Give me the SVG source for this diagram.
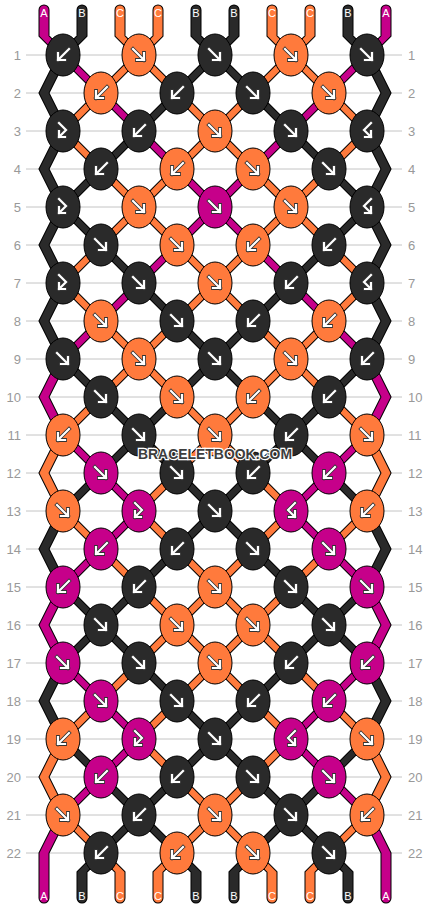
<svg xmlns="http://www.w3.org/2000/svg" xmlns:xlink="http://www.w3.org/1999/xlink" width="430" height="908" viewBox="0 0 430 908">
<style>
.grid line{stroke:#c4c4c4;stroke-width:1}
.num{font-family:"Liberation Sans",Arial,sans-serif;font-size:13px;fill:#999}
.lab{font-family:"Liberation Sans",Arial,sans-serif;font-size:11px;fill:#ffffff;text-anchor:middle}
.K{fill:#2a2a2a;stroke:#000;stroke-width:1}
.O{fill:#ff7a3c;stroke:#000;stroke-width:1}
.M{fill:#c6008a;stroke:#000;stroke-width:1}
.wm{font-family:"Liberation Sans",Arial,sans-serif;font-weight:bold;font-size:15px;fill:#3e3e3e;stroke:#fff;stroke-width:2.5;paint-order:stroke;text-anchor:middle}
</style>
<defs>
<path id="pf" d="M-6-6L5 5M5-2V5H-2"/>
<path id="pb" d="M6-6L-5 5M-5-2V5H2"/>
<path id="pfb" d="M-4-8L3-1L-4 6M-4 0V6H2"/>
<path id="pbf" d="M4-8L-3-1L4 6M4 0V6H-2"/>
<g id="f" fill="none" stroke-linecap="square"><use href="#pf" stroke="#333" stroke-width="3.8"/><use href="#pf" stroke="#fff" stroke-width="2.2"/></g>
<g id="b" fill="none" stroke-linecap="square"><use href="#pb" stroke="#333" stroke-width="3.8"/><use href="#pb" stroke="#fff" stroke-width="2.2"/></g>
<g id="fb" fill="none" stroke-linecap="square"><use href="#pfb" stroke="#333" stroke-width="3.8"/><use href="#pfb" stroke="#fff" stroke-width="2.2"/></g>
<g id="bf" fill="none" stroke-linecap="square"><use href="#pbf" stroke="#333" stroke-width="3.8"/><use href="#pbf" stroke="#fff" stroke-width="2.2"/></g>
<path id="LK" d="M77.5 36V10a4.5 4.5 0 0 1 9 0V36l-19 19h-9z M191.5 36V10a4.5 4.5 0 0 1 9 0V36l19 19h-9z M229.5 36V10a4.5 4.5 0 0 1 9 0V36l-19 19h-9z M343.5 36V10a4.5 4.5 0 0 1 9 0V36l19 19h-9z
M58.5 55h9l-19 38h-9z M210.5 55h9l-38 38h-9z M210.5 55h9l38 38h-9z M362.5 55h9l19 38h-9z
M39.5 93h9l19 38h-9z M172.5 93h9l-38 38h-9z M248.5 93h9l38 38h-9z M381.5 93h9l-19 38h-9z
M58.5 131h9l-19 38h-9z M134.5 131h9l-38 38h-9z M286.5 131h9l38 38h-9z M362.5 131h9l19 38h-9z
M39.5 169h9l19 38h-9z M96.5 169h9l-38 38h-9z M324.5 169h9l38 38h-9z M381.5 169h9l-19 38h-9z
M58.5 207h9l-19 38h-9z M58.5 207h9l38 38h-9z M362.5 207h9l-38 38h-9z M362.5 207h9l19 38h-9z
M39.5 245h9l19 38h-9z M96.5 245h9l38 38h-9z M324.5 245h9l-38 38h-9z M381.5 245h9l-19 38h-9z
M58.5 283h9l-19 38h-9z M134.5 283h9l38 38h-9z M286.5 283h9l-38 38h-9z M362.5 283h9l19 38h-9z
M39.5 321h9l19 38h-9z M172.5 321h9l38 38h-9z M248.5 321h9l-38 38h-9z M381.5 321h9l-19 38h-9z
M58.5 359h9l38 38h-9z M210.5 359h9l-38 38h-9z M210.5 359h9l38 38h-9z M362.5 359h9l-38 38h-9z
M96.5 397h9l38 38h-9z M172.5 397h9l-38 38h-9z M248.5 397h9l38 38h-9z M324.5 397h9l-38 38h-9z
M134.5 435h9l-38 38h-9z M134.5 435h9l38 38h-9z M286.5 435h9l-38 38h-9z M286.5 435h9l38 38h-9z
M96.5 473h9l-38 38h-9z M172.5 473h9l38 38h-9z M248.5 473h9l-38 38h-9z M324.5 473h9l38 38h-9z
M58.5 511h9l-19 38h-9z M210.5 511h9l-38 38h-9z M210.5 511h9l38 38h-9z M362.5 511h9l19 38h-9z
M39.5 549h9l19 38h-9z M172.5 549h9l-38 38h-9z M248.5 549h9l38 38h-9z M381.5 549h9l-19 38h-9z
M58.5 587h9l38 38h-9z M134.5 587h9l-38 38h-9z M286.5 587h9l38 38h-9z M362.5 587h9l-38 38h-9z
M96.5 625h9l-38 38h-9z M96.5 625h9l38 38h-9z M324.5 625h9l-38 38h-9z M324.5 625h9l38 38h-9z
M58.5 663h9l-19 38h-9z M134.5 663h9l38 38h-9z M286.5 663h9l-38 38h-9z M362.5 663h9l19 38h-9z
M39.5 701h9l19 38h-9z M172.5 701h9l38 38h-9z M248.5 701h9l-38 38h-9z M381.5 701h9l-19 38h-9z
M58.5 739h9l38 38h-9z M210.5 739h9l-38 38h-9z M210.5 739h9l38 38h-9z M362.5 739h9l-38 38h-9z
M96.5 777h9l38 38h-9z M172.5 777h9l-38 38h-9z M248.5 777h9l38 38h-9z M324.5 777h9l-38 38h-9z
M134.5 815h9l-38 38h-9z M134.5 815h9l38 38h-9z M286.5 815h9l-38 38h-9z M286.5 815h9l38 38h-9z
M96.5 853h9l-19 19V898a4.5 4.5 0 0 1 -9 0V872z M172.5 853h9l19 19V898a4.5 4.5 0 0 1 -9 0V872z M248.5 853h9l-19 19V898a4.5 4.5 0 0 1 -9 0V872z M324.5 853h9l19 19V898a4.5 4.5 0 0 1 -9 0V872z"/>
<path id="LO" d="M115.5 36V10a4.5 4.5 0 0 1 9 0V36l19 19h-9z M153.5 36V10a4.5 4.5 0 0 1 9 0V36l-19 19h-9z M267.5 36V10a4.5 4.5 0 0 1 9 0V36l19 19h-9z M305.5 36V10a4.5 4.5 0 0 1 9 0V36l-19 19h-9z
M134.5 55h9l-38 38h-9z M134.5 55h9l38 38h-9z M286.5 55h9l-38 38h-9z M286.5 55h9l38 38h-9z
M96.5 93h9l-38 38h-9z M172.5 93h9l38 38h-9z M248.5 93h9l-38 38h-9z M324.5 93h9l38 38h-9z
M58.5 131h9l38 38h-9z M210.5 131h9l-38 38h-9z M210.5 131h9l38 38h-9z M362.5 131h9l-38 38h-9z
M96.5 169h9l38 38h-9z M172.5 169h9l-38 38h-9z M248.5 169h9l38 38h-9z M324.5 169h9l-38 38h-9z
M134.5 207h9l-38 38h-9z M134.5 207h9l38 38h-9z M286.5 207h9l-38 38h-9z M286.5 207h9l38 38h-9z
M96.5 245h9l-38 38h-9z M172.5 245h9l38 38h-9z M248.5 245h9l-38 38h-9z M324.5 245h9l38 38h-9z
M58.5 283h9l38 38h-9z M210.5 283h9l-38 38h-9z M210.5 283h9l38 38h-9z M362.5 283h9l-38 38h-9z
M96.5 321h9l38 38h-9z M172.5 321h9l-38 38h-9z M248.5 321h9l38 38h-9z M324.5 321h9l-38 38h-9z
M134.5 359h9l-38 38h-9z M134.5 359h9l38 38h-9z M286.5 359h9l-38 38h-9z M286.5 359h9l38 38h-9z
M96.5 397h9l-38 38h-9z M172.5 397h9l38 38h-9z M248.5 397h9l-38 38h-9z M324.5 397h9l38 38h-9z
M58.5 435h9l-19 38h-9z M210.5 435h9l-38 38h-9z M210.5 435h9l38 38h-9z M362.5 435h9l19 38h-9z
M39.5 473h9l19 38h-9z M172.5 473h9l-38 38h-9z M248.5 473h9l38 38h-9z M381.5 473h9l-19 38h-9z
M58.5 511h9l38 38h-9z M134.5 511h9l38 38h-9z M286.5 511h9l-38 38h-9z M362.5 511h9l-38 38h-9z
M96.5 549h9l38 38h-9z M172.5 549h9l38 38h-9z M248.5 549h9l-38 38h-9z M324.5 549h9l-38 38h-9z
M134.5 587h9l38 38h-9z M210.5 587h9l-38 38h-9z M210.5 587h9l38 38h-9z M286.5 587h9l-38 38h-9z
M172.5 625h9l-38 38h-9z M172.5 625h9l38 38h-9z M248.5 625h9l-38 38h-9z M248.5 625h9l38 38h-9z
M134.5 663h9l-38 38h-9z M210.5 663h9l-38 38h-9z M210.5 663h9l38 38h-9z M286.5 663h9l38 38h-9z
M96.5 701h9l-38 38h-9z M172.5 701h9l-38 38h-9z M248.5 701h9l38 38h-9z M324.5 701h9l38 38h-9z
M58.5 739h9l-19 38h-9z M134.5 739h9l38 38h-9z M286.5 739h9l-38 38h-9z M362.5 739h9l19 38h-9z
M39.5 777h9l19 38h-9z M172.5 777h9l38 38h-9z M248.5 777h9l-38 38h-9z M381.5 777h9l-19 38h-9z
M58.5 815h9l38 38h-9z M210.5 815h9l-38 38h-9z M210.5 815h9l38 38h-9z M362.5 815h9l-38 38h-9z
M96.5 853h9l19 19V898a4.5 4.5 0 0 1 -9 0V872z M172.5 853h9l-19 19V898a4.5 4.5 0 0 1 -9 0V872z M248.5 853h9l19 19V898a4.5 4.5 0 0 1 -9 0V872z M324.5 853h9l-19 19V898a4.5 4.5 0 0 1 -9 0V872z"/>
<path id="LM" d="M39.5 36V10a4.5 4.5 0 0 1 9 0V36l19 19h-9z M381.5 36V10a4.5 4.5 0 0 1 9 0V36l-19 19h-9z
M58.5 55h9l38 38h-9z M362.5 55h9l-38 38h-9z
M96.5 93h9l38 38h-9z M324.5 93h9l-38 38h-9z
M134.5 131h9l38 38h-9z M286.5 131h9l-38 38h-9z
M172.5 169h9l38 38h-9z M248.5 169h9l-38 38h-9z
M210.5 207h9l-38 38h-9z M210.5 207h9l38 38h-9z
M172.5 245h9l-38 38h-9z M248.5 245h9l38 38h-9z
M134.5 283h9l-38 38h-9z M286.5 283h9l38 38h-9z
M96.5 321h9l-38 38h-9z M324.5 321h9l38 38h-9z
M58.5 359h9l-19 38h-9z M362.5 359h9l19 38h-9z
M39.5 397h9l19 38h-9z M381.5 397h9l-19 38h-9z
M58.5 435h9l38 38h-9z M362.5 435h9l-38 38h-9z
M96.5 473h9l38 38h-9z M324.5 473h9l-38 38h-9z
M134.5 511h9l-38 38h-9z M286.5 511h9l38 38h-9z
M96.5 549h9l-38 38h-9z M324.5 549h9l38 38h-9z
M58.5 587h9l-19 38h-9z M362.5 587h9l19 38h-9z
M39.5 625h9l19 38h-9z M381.5 625h9l-19 38h-9z
M58.5 663h9l38 38h-9z M362.5 663h9l-38 38h-9z
M96.5 701h9l38 38h-9z M324.5 701h9l-38 38h-9z
M134.5 739h9l-38 38h-9z M286.5 739h9l38 38h-9z
M96.5 777h9l-38 38h-9z M324.5 777h9l38 38h-9z
M58.5 815h9l-19 38V898a4.5 4.5 0 0 1 -9 0V853z M362.5 815h9l19 38V898a4.5 4.5 0 0 1 -9 0V853z"/>
</defs>
<rect width="430" height="908" fill="#fff"/>
<g class="grid">
<line x1="26" y1="55" x2="402" y2="55"/><line x1="26" y1="93" x2="402" y2="93"/><line x1="26" y1="131" x2="402" y2="131"/><line x1="26" y1="169" x2="402" y2="169"/><line x1="26" y1="207" x2="402" y2="207"/><line x1="26" y1="245" x2="402" y2="245"/><line x1="26" y1="283" x2="402" y2="283"/><line x1="26" y1="321" x2="402" y2="321"/><line x1="26" y1="359" x2="402" y2="359"/><line x1="26" y1="397" x2="402" y2="397"/><line x1="26" y1="435" x2="402" y2="435"/><line x1="26" y1="473" x2="402" y2="473"/><line x1="26" y1="511" x2="402" y2="511"/><line x1="26" y1="549" x2="402" y2="549"/><line x1="26" y1="587" x2="402" y2="587"/><line x1="26" y1="625" x2="402" y2="625"/><line x1="26" y1="663" x2="402" y2="663"/><line x1="26" y1="701" x2="402" y2="701"/><line x1="26" y1="739" x2="402" y2="739"/><line x1="26" y1="777" x2="402" y2="777"/><line x1="26" y1="815" x2="402" y2="815"/><line x1="26" y1="853" x2="402" y2="853"/>
</g>
<g class="num" text-anchor="end">
<text x="21" y="59.5">1</text><text x="21" y="97.5">2</text><text x="21" y="135.5">3</text><text x="21" y="173.5">4</text><text x="21" y="211.5">5</text><text x="21" y="249.5">6</text><text x="21" y="287.5">7</text><text x="21" y="325.5">8</text><text x="21" y="363.5">9</text><text x="21" y="401.5">10</text><text x="21" y="439.5">11</text><text x="21" y="477.5">12</text><text x="21" y="515.5">13</text><text x="21" y="553.5">14</text><text x="21" y="591.5">15</text><text x="21" y="629.5">16</text><text x="21" y="667.5">17</text><text x="21" y="705.5">18</text><text x="21" y="743.5">19</text><text x="21" y="781.5">20</text><text x="21" y="819.5">21</text><text x="21" y="857.5">22</text>
</g>
<g class="num" text-anchor="start">
<text x="408" y="59.5">1</text><text x="408" y="97.5">2</text><text x="408" y="135.5">3</text><text x="408" y="173.5">4</text><text x="408" y="211.5">5</text><text x="408" y="249.5">6</text><text x="408" y="287.5">7</text><text x="408" y="325.5">8</text><text x="408" y="363.5">9</text><text x="408" y="401.5">10</text><text x="408" y="439.5">11</text><text x="408" y="477.5">12</text><text x="408" y="515.5">13</text><text x="408" y="553.5">14</text><text x="408" y="591.5">15</text><text x="408" y="629.5">16</text><text x="408" y="667.5">17</text><text x="408" y="705.5">18</text><text x="408" y="743.5">19</text><text x="408" y="781.5">20</text><text x="408" y="819.5">21</text><text x="408" y="857.5">22</text>
</g>
<g id="connectors">
<use href="#LK" fill="#000" stroke="#000" stroke-width="2" stroke-linejoin="round"/>
<use href="#LO" fill="#000" stroke="#000" stroke-width="2" stroke-linejoin="round"/>
<use href="#LM" fill="#000" stroke="#000" stroke-width="2" stroke-linejoin="round"/>
<use href="#LK" fill="#2a2a2a"/>
<use href="#LO" fill="#ff7a3c"/>
<use href="#LM" fill="#c6008a"/>
</g>
<g class="lab">
<text x="44" y="16.5">A</text><text x="82" y="16.5">B</text><text x="120" y="16.5">C</text><text x="158" y="16.5">C</text><text x="196" y="16.5">B</text><text x="234" y="16.5">B</text><text x="272" y="16.5">C</text><text x="310" y="16.5">C</text><text x="348" y="16.5">B</text><text x="386" y="16.5">A</text>
<text x="44" y="900">A</text><text x="82" y="900">B</text><text x="120" y="900">C</text><text x="158" y="900">C</text><text x="196" y="900">B</text><text x="234" y="900">B</text><text x="272" y="900">C</text><text x="310" y="900">C</text><text x="348" y="900">B</text><text x="386" y="900">A</text>
</g>
<g id="knots">
<g id="k1-1" transform="translate(63 55)"><ellipse class="K" rx="17" ry="21"/><use href="#b"/></g>
<g id="k1-2" transform="translate(139 55)"><ellipse class="O" rx="17" ry="21"/><use href="#f"/></g>
<g id="k1-3" transform="translate(215 55)"><ellipse class="K" rx="17" ry="21"/><use href="#f"/></g>
<g id="k1-4" transform="translate(291 55)"><ellipse class="O" rx="17" ry="21"/><use href="#f"/></g>
<g id="k1-5" transform="translate(367 55)"><ellipse class="K" rx="17" ry="21"/><use href="#f"/></g>
<g id="k2-1" transform="translate(101 93)"><ellipse class="O" rx="17" ry="21"/><use href="#b"/></g>
<g id="k2-2" transform="translate(177 93)"><ellipse class="K" rx="17" ry="21"/><use href="#b"/></g>
<g id="k2-3" transform="translate(253 93)"><ellipse class="K" rx="17" ry="21"/><use href="#f"/></g>
<g id="k2-4" transform="translate(329 93)"><ellipse class="O" rx="17" ry="21"/><use href="#f"/></g>
<g id="k3-1" transform="translate(63 131)"><ellipse class="K" rx="17" ry="21"/><use href="#fb"/></g>
<g id="k3-2" transform="translate(139 131)"><ellipse class="K" rx="17" ry="21"/><use href="#b"/></g>
<g id="k3-3" transform="translate(215 131)"><ellipse class="O" rx="17" ry="21"/><use href="#f"/></g>
<g id="k3-4" transform="translate(291 131)"><ellipse class="K" rx="17" ry="21"/><use href="#f"/></g>
<g id="k3-5" transform="translate(367 131)"><ellipse class="K" rx="17" ry="21"/><use href="#bf"/></g>
<g id="k4-1" transform="translate(101 169)"><ellipse class="K" rx="17" ry="21"/><use href="#b"/></g>
<g id="k4-2" transform="translate(177 169)"><ellipse class="O" rx="17" ry="21"/><use href="#b"/></g>
<g id="k4-3" transform="translate(253 169)"><ellipse class="O" rx="17" ry="21"/><use href="#f"/></g>
<g id="k4-4" transform="translate(329 169)"><ellipse class="K" rx="17" ry="21"/><use href="#f"/></g>
<g id="k5-1" transform="translate(63 207)"><ellipse class="K" rx="17" ry="21"/><use href="#fb"/></g>
<g id="k5-2" transform="translate(139 207)"><ellipse class="O" rx="17" ry="21"/><use href="#f"/></g>
<g id="k5-3" transform="translate(215 207)"><ellipse class="M" rx="17" ry="21"/><use href="#f"/></g>
<g id="k5-4" transform="translate(291 207)"><ellipse class="O" rx="17" ry="21"/><use href="#f"/></g>
<g id="k5-5" transform="translate(367 207)"><ellipse class="K" rx="17" ry="21"/><use href="#bf"/></g>
<g id="k6-1" transform="translate(101 245)"><ellipse class="K" rx="17" ry="21"/><use href="#f"/></g>
<g id="k6-2" transform="translate(177 245)"><ellipse class="O" rx="17" ry="21"/><use href="#f"/></g>
<g id="k6-3" transform="translate(253 245)"><ellipse class="O" rx="17" ry="21"/><use href="#b"/></g>
<g id="k6-4" transform="translate(329 245)"><ellipse class="K" rx="17" ry="21"/><use href="#b"/></g>
<g id="k7-1" transform="translate(63 283)"><ellipse class="K" rx="17" ry="21"/><use href="#fb"/></g>
<g id="k7-2" transform="translate(139 283)"><ellipse class="K" rx="17" ry="21"/><use href="#f"/></g>
<g id="k7-3" transform="translate(215 283)"><ellipse class="O" rx="17" ry="21"/><use href="#f"/></g>
<g id="k7-4" transform="translate(291 283)"><ellipse class="K" rx="17" ry="21"/><use href="#b"/></g>
<g id="k7-5" transform="translate(367 283)"><ellipse class="K" rx="17" ry="21"/><use href="#bf"/></g>
<g id="k8-1" transform="translate(101 321)"><ellipse class="O" rx="17" ry="21"/><use href="#f"/></g>
<g id="k8-2" transform="translate(177 321)"><ellipse class="K" rx="17" ry="21"/><use href="#f"/></g>
<g id="k8-3" transform="translate(253 321)"><ellipse class="K" rx="17" ry="21"/><use href="#b"/></g>
<g id="k8-4" transform="translate(329 321)"><ellipse class="O" rx="17" ry="21"/><use href="#b"/></g>
<g id="k9-1" transform="translate(63 359)"><ellipse class="K" rx="17" ry="21"/><use href="#f"/></g>
<g id="k9-2" transform="translate(139 359)"><ellipse class="O" rx="17" ry="21"/><use href="#f"/></g>
<g id="k9-3" transform="translate(215 359)"><ellipse class="K" rx="17" ry="21"/><use href="#f"/></g>
<g id="k9-4" transform="translate(291 359)"><ellipse class="O" rx="17" ry="21"/><use href="#f"/></g>
<g id="k9-5" transform="translate(367 359)"><ellipse class="K" rx="17" ry="21"/><use href="#b"/></g>
<g id="k10-1" transform="translate(101 397)"><ellipse class="K" rx="17" ry="21"/><use href="#f"/></g>
<g id="k10-2" transform="translate(177 397)"><ellipse class="O" rx="17" ry="21"/><use href="#f"/></g>
<g id="k10-3" transform="translate(253 397)"><ellipse class="O" rx="17" ry="21"/><use href="#b"/></g>
<g id="k10-4" transform="translate(329 397)"><ellipse class="K" rx="17" ry="21"/><use href="#b"/></g>
<g id="k11-1" transform="translate(63 435)"><ellipse class="O" rx="17" ry="21"/><use href="#b"/></g>
<g id="k11-2" transform="translate(139 435)"><ellipse class="K" rx="17" ry="21"/><use href="#f"/></g>
<g id="k11-3" transform="translate(215 435)"><ellipse class="O" rx="17" ry="21"/><use href="#f"/></g>
<g id="k11-4" transform="translate(291 435)"><ellipse class="K" rx="17" ry="21"/><use href="#b"/></g>
<g id="k11-5" transform="translate(367 435)"><ellipse class="O" rx="17" ry="21"/><use href="#f"/></g>
<g id="k12-1" transform="translate(101 473)"><ellipse class="M" rx="17" ry="21"/><use href="#f"/></g>
<g id="k12-2" transform="translate(177 473)"><ellipse class="K" rx="17" ry="21"/><use href="#f"/></g>
<g id="k12-3" transform="translate(253 473)"><ellipse class="K" rx="17" ry="21"/><use href="#b"/></g>
<g id="k12-4" transform="translate(329 473)"><ellipse class="M" rx="17" ry="21"/><use href="#b"/></g>
<g id="k13-1" transform="translate(63 511)"><ellipse class="O" rx="17" ry="21"/><use href="#f"/></g>
<g id="k13-2" transform="translate(139 511)"><ellipse class="M" rx="17" ry="21"/><use href="#fb"/></g>
<g id="k13-3" transform="translate(215 511)"><ellipse class="K" rx="17" ry="21"/><use href="#f"/></g>
<g id="k13-4" transform="translate(291 511)"><ellipse class="M" rx="17" ry="21"/><use href="#bf"/></g>
<g id="k13-5" transform="translate(367 511)"><ellipse class="O" rx="17" ry="21"/><use href="#b"/></g>
<g id="k14-1" transform="translate(101 549)"><ellipse class="M" rx="17" ry="21"/><use href="#b"/></g>
<g id="k14-2" transform="translate(177 549)"><ellipse class="K" rx="17" ry="21"/><use href="#b"/></g>
<g id="k14-3" transform="translate(253 549)"><ellipse class="K" rx="17" ry="21"/><use href="#f"/></g>
<g id="k14-4" transform="translate(329 549)"><ellipse class="M" rx="17" ry="21"/><use href="#f"/></g>
<g id="k15-1" transform="translate(63 587)"><ellipse class="M" rx="17" ry="21"/><use href="#b"/></g>
<g id="k15-2" transform="translate(139 587)"><ellipse class="K" rx="17" ry="21"/><use href="#b"/></g>
<g id="k15-3" transform="translate(215 587)"><ellipse class="O" rx="17" ry="21"/><use href="#f"/></g>
<g id="k15-4" transform="translate(291 587)"><ellipse class="K" rx="17" ry="21"/><use href="#f"/></g>
<g id="k15-5" transform="translate(367 587)"><ellipse class="M" rx="17" ry="21"/><use href="#f"/></g>
<g id="k16-1" transform="translate(101 625)"><ellipse class="K" rx="17" ry="21"/><use href="#f"/></g>
<g id="k16-2" transform="translate(177 625)"><ellipse class="O" rx="17" ry="21"/><use href="#f"/></g>
<g id="k16-3" transform="translate(253 625)"><ellipse class="O" rx="17" ry="21"/><use href="#f"/></g>
<g id="k16-4" transform="translate(329 625)"><ellipse class="K" rx="17" ry="21"/><use href="#f"/></g>
<g id="k17-1" transform="translate(63 663)"><ellipse class="M" rx="17" ry="21"/><use href="#f"/></g>
<g id="k17-2" transform="translate(139 663)"><ellipse class="K" rx="17" ry="21"/><use href="#f"/></g>
<g id="k17-3" transform="translate(215 663)"><ellipse class="O" rx="17" ry="21"/><use href="#f"/></g>
<g id="k17-4" transform="translate(291 663)"><ellipse class="K" rx="17" ry="21"/><use href="#b"/></g>
<g id="k17-5" transform="translate(367 663)"><ellipse class="M" rx="17" ry="21"/><use href="#b"/></g>
<g id="k18-1" transform="translate(101 701)"><ellipse class="M" rx="17" ry="21"/><use href="#f"/></g>
<g id="k18-2" transform="translate(177 701)"><ellipse class="K" rx="17" ry="21"/><use href="#f"/></g>
<g id="k18-3" transform="translate(253 701)"><ellipse class="K" rx="17" ry="21"/><use href="#b"/></g>
<g id="k18-4" transform="translate(329 701)"><ellipse class="M" rx="17" ry="21"/><use href="#b"/></g>
<g id="k19-1" transform="translate(63 739)"><ellipse class="O" rx="17" ry="21"/><use href="#b"/></g>
<g id="k19-2" transform="translate(139 739)"><ellipse class="M" rx="17" ry="21"/><use href="#fb"/></g>
<g id="k19-3" transform="translate(215 739)"><ellipse class="K" rx="17" ry="21"/><use href="#f"/></g>
<g id="k19-4" transform="translate(291 739)"><ellipse class="M" rx="17" ry="21"/><use href="#bf"/></g>
<g id="k19-5" transform="translate(367 739)"><ellipse class="O" rx="17" ry="21"/><use href="#f"/></g>
<g id="k20-1" transform="translate(101 777)"><ellipse class="M" rx="17" ry="21"/><use href="#b"/></g>
<g id="k20-2" transform="translate(177 777)"><ellipse class="K" rx="17" ry="21"/><use href="#b"/></g>
<g id="k20-3" transform="translate(253 777)"><ellipse class="K" rx="17" ry="21"/><use href="#f"/></g>
<g id="k20-4" transform="translate(329 777)"><ellipse class="M" rx="17" ry="21"/><use href="#f"/></g>
<g id="k21-1" transform="translate(63 815)"><ellipse class="O" rx="17" ry="21"/><use href="#f"/></g>
<g id="k21-2" transform="translate(139 815)"><ellipse class="K" rx="17" ry="21"/><use href="#b"/></g>
<g id="k21-3" transform="translate(215 815)"><ellipse class="O" rx="17" ry="21"/><use href="#f"/></g>
<g id="k21-4" transform="translate(291 815)"><ellipse class="K" rx="17" ry="21"/><use href="#f"/></g>
<g id="k21-5" transform="translate(367 815)"><ellipse class="O" rx="17" ry="21"/><use href="#b"/></g>
<g id="k22-1" transform="translate(101 853)"><ellipse class="K" rx="17" ry="21"/><use href="#b"/></g>
<g id="k22-2" transform="translate(177 853)"><ellipse class="O" rx="17" ry="21"/><use href="#b"/></g>
<g id="k22-3" transform="translate(253 853)"><ellipse class="O" rx="17" ry="21"/><use href="#f"/></g>
<g id="k22-4" transform="translate(329 853)"><ellipse class="K" rx="17" ry="21"/><use href="#f"/></g>
</g>
<text class="wm" x="215" y="459" textLength="154" lengthAdjust="spacingAndGlyphs">BRACELETBOOK.COM</text>
</svg>
